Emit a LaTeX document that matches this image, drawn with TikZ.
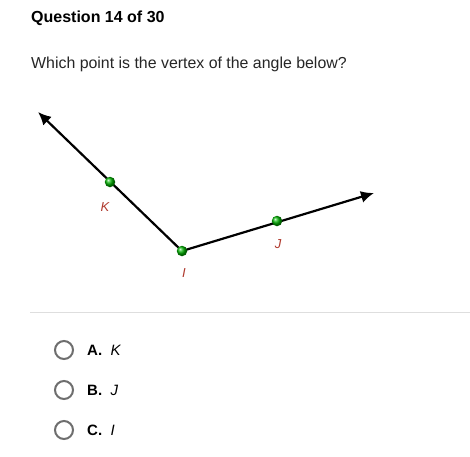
\documentclass[tikz,border=0pt]{standalone}
\usepackage{fontspec}
\setmainfont{Liberation Sans}
\usetikzlibrary{shapes,arrows,arrows.meta,calc,positioning}
\definecolor{labelred}{RGB}{176,58,46}
\definecolor{ringgray}{RGB}{110,110,110}
\definecolor{rulegray}{RGB}{222,222,222}
\tikzstyle{title} = [anchor=base west, inner sep=0, font=\fontsize{16}{19}\selectfont\bfseries]
\tikzstyle{prompt} = [anchor=base west, inner sep=0, text=black!85, font=\fontsize{15.9}{19}\selectfont]
\tikzstyle{point} = [circle, inner sep=0, minimum size=10.5pt, ball color=green!70!black]
\tikzstyle{ptlabel} = [inner sep=0, text=labelred, font=\fontsize{13}{15}\selectfont\itshape]
\tikzstyle{ray} = [draw, line width=2.2pt, -{Latex[length=13pt,width=12pt]}]
\tikzstyle{radio} = [circle, draw=ringgray, line width=2pt, minimum size=18pt, inner sep=0]
\tikzstyle{choice} = [anchor=west, inner sep=0, font=\fontsize{15}{18}\selectfont]

\begin{document}
\begin{tikzpicture}[x=1pt, y=-1pt]
	\useasboundingbox[fill=white] (0,0) rectangle (470,456);
	\node [title] (head) at (31,22) {Question 14 of 30};
	\node [prompt] (ask) at (31,68) {Which point is the vertex of the angle below?};

	% the angle
	\coordinate (tipk) at (38,112);
	\coordinate (tipj) at (374,193);
	\path [ray] (182,251) -- (tipk);
	\path [ray] (182,251) -- (tipj);
	\node [point] (k) at (110,182) {};
	\node [point] (i) at (182,251) {};
	\node [point] (j) at (277,221) {};
	\node [ptlabel] at (105,207) {K};
	\node [ptlabel] at (184,273) {I};
	\node [ptlabel] at (278,244) {J};

	\coordinate (rulel) at (30,312);
	\coordinate (ruler) at (470,312);
	\draw [rulegray, line width=1pt] (rulel) -- (ruler);

	% choices
	\node [radio] (ra) at (64,350) {};
	\node [radio] (rb) at (64,390) {};
	\node [radio] (rc) at (64,430) {};
	\node [choice, right=13pt of ra] {\textbf{A.}\ \ \textit{K}};
	\node [choice, right=13pt of rb] {\textbf{B.}\ \ \textit{J}};
	\node [choice, right=13pt of rc] {\textbf{C.}\ \ \textit{I}};
\end{tikzpicture}
\end{document}
